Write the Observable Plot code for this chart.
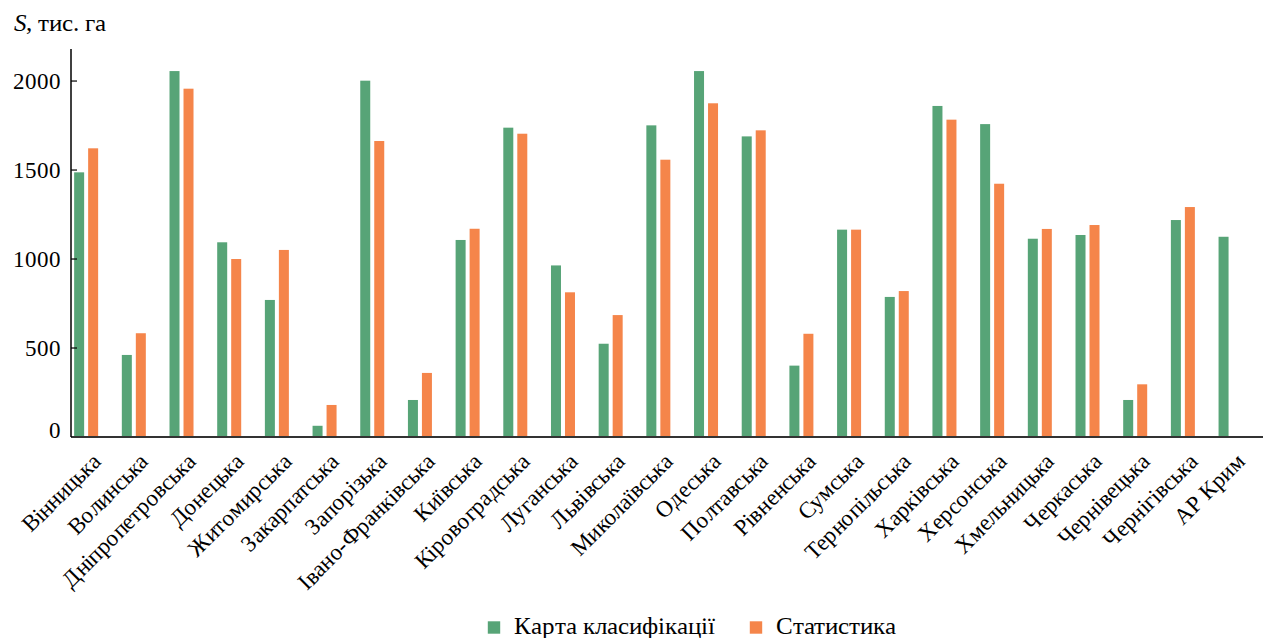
<!DOCTYPE html>
<html>
<head>
<meta charset="utf-8">
<script src="https://cdn.jsdelivr.net/npm/d3@7"></script>
<script src="https://cdn.jsdelivr.net/npm/@observablehq/plot@0.6"></script>
<style>
  @font-face { font-family: "ChartSerif"; font-style: normal; src: local("Liberation Serif"), local("LiberationSerif"), local("LiberationSerif-Regular"), local("Times New Roman"); }
  @font-face { font-family: "ChartSerif"; font-style: italic; src: local("Liberation Serif Italic"), local("LiberationSerif-Italic"); }
  html, body { margin: 0; padding: 0; background: #fff; }
  #chart { width: 1263px; height: 638px; }
  #chart svg text { font-family: "ChartSerif", "Liberation Serif", serif; }
</style>
</head>
<body>
<div id="chart"></div>
<script>
const regions = ["Вінницька","Волинська","Дніпропетровська","Донецька","Житомирська","Закарпатська","Запорізька","Івано-Франківська","Київська","Кіровоградська","Луганська","Львівська","Миколаївська","Одеська","Полтавська","Рівненська","Сумська","Тернопільська","Харківська","Херсонська","Хмельницька","Черкаська","Чернівецька","Чернігівська","АР Крим"];
const klasyfikatsiia = [1487, 461, 2056, 1094, 770, 63, 2002, 208, 1107, 1738, 964, 524, 1751, 2056, 1689, 401, 1165, 787, 1860, 1758, 1114, 1135, 208, 1219, 1125];
const statystyka = [1622, 583, 1957, 1000, 1051, 180, 1663, 360, 1170, 1704, 813, 685, 1558, 1875, 1723, 580, 1165, 820, 1783, 1423, 1169, 1191, 296, 1292, null];
const seriesNames = ["Карта класифікації", "Статистика"];
const seriesColors = ["#57a477", "#f5854a"];
const yTicks = [0, 500, 1000, 1500, 2000];
const titleParts = ["S", ", тис. га"];

const rows = regions.map((r, i) => ({region: r, k: klasyfikatsiia[i], s: statystyka[i]}));

const FONT = "ChartSerif, 'Liberation Serif', serif";
const W = 1263, H = 638, mL = 62.3, mR = 8.6, mT = 49, mB = 201, axisX0 = 71;
const bw = (W - mL - mR) / regions.length;
const legendX = [487, 749];

const axisLines = (index, scales, values, dims) => {
  const g = d3.create("svg:g");
  const yb = dims.height - dims.marginBottom;
  g.append("line").attr("x1", axisX0).attr("x2", W)
    .attr("y1", yb).attr("y2", yb)
    .attr("stroke", "#333").attr("stroke-width", 2);
  g.append("line").attr("x1", axisX0).attr("x2", axisX0)
    .attr("y1", dims.marginTop).attr("y2", yb)
    .attr("stroke", "#000").attr("stroke-width", 1.5);
  for (const t of yTicks.slice(1)) {
    const y = scales.y(t);
    g.append("line").attr("x1", axisX0).attr("x2", axisX0 + 6).attr("y1", y).attr("y2", y)
      .attr("stroke", "#000").attr("stroke-width", 1.2);
  }
  return g.node();
};

const legendMarks = seriesNames.flatMap((n, i) => [
  Plot.dot([n], {frameAnchor: "bottom-left", dx: legendX[i] + 6.5 - mL, dy: 627 - (H - mB), symbol: "square", r: 7, fill: seriesColors[i], stroke: null, ariaLabel: "legsw"}),
  Plot.text([n], {text: d => d, frameAnchor: "bottom-left", dx: legendX[i] + 26 - mL, dy: 633 - (H - mB), textAnchor: "start", lineAnchor: "bottom", fontSize: 24.5, fontFamily: FONT, fill: "#000", ariaLabel: "legtext"})
]);

const chart = Plot.plot({
  width: W, height: H,
  marginLeft: mL, marginRight: mR, marginTop: mT, marginBottom: mB,
  style: {background: "#fff", color: "#000", fontFamily: FONT},
  x: {domain: regions, padding: 0, round: false, label: null, axis: null},
  y: {domain: [0, 2180], label: null, axis: null},
  marks: [
    Plot.barY(rows, {x: "region", y: "k", fill: seriesColors[0], insetLeft: bw / 2 - 12, insetRight: bw / 2 + 2}),
    Plot.barY(rows.filter(d => d.s != null), {x: "region", y: "s", fill: seriesColors[1], insetLeft: bw / 2 + 2, insetRight: bw / 2 - 12}),
    axisLines,
    Plot.axisY({ticks: yTicks.slice(1), tickFormat: d => String(d), tickSize: 0, tickPadding: 2, fontSize: 23, fontFamily: FONT, label: null, ariaLabel: "yticks"}),
    Plot.axisY({ticks: [0], tickFormat: d => String(d), tickSize: 0, tickPadding: 2, dy: -7, fontSize: 23, fontFamily: FONT, label: null, ariaLabel: "yticks"}),
    Plot.axisX({tickRotate: -45, tickSize: 0, tickPadding: 20, dx: 10, fontSize: 23, fontFamily: FONT, label: null, ariaLabel: "xticks"}),
    Plot.text([titleParts[0]], {text: d => d, frameAnchor: "top-left", dx: 13 - mL, dy: 30 - mT, textAnchor: "start", lineAnchor: "bottom", fontSize: 24.5, fontStyle: "italic", fontFamily: FONT, fill: "#000", ariaLabel: "titleS"}),
    Plot.text([titleParts[1]], {text: d => d, frameAnchor: "top-left", dx: 13 + 12.3 - mL, dy: 30 - mT, textAnchor: "start", lineAnchor: "bottom", fontSize: 24.5, fontFamily: FONT, fill: "#000", ariaLabel: "titleR"}),
    ...legendMarks
  ]
});
document.getElementById("chart").appendChild(chart);

d3.select(chart).selectAll("text").each(function() {
  this.setAttribute("font-family", FONT);
  this.style.setProperty("font-family", FONT, "important");
});
</script>
</body>
</html>
